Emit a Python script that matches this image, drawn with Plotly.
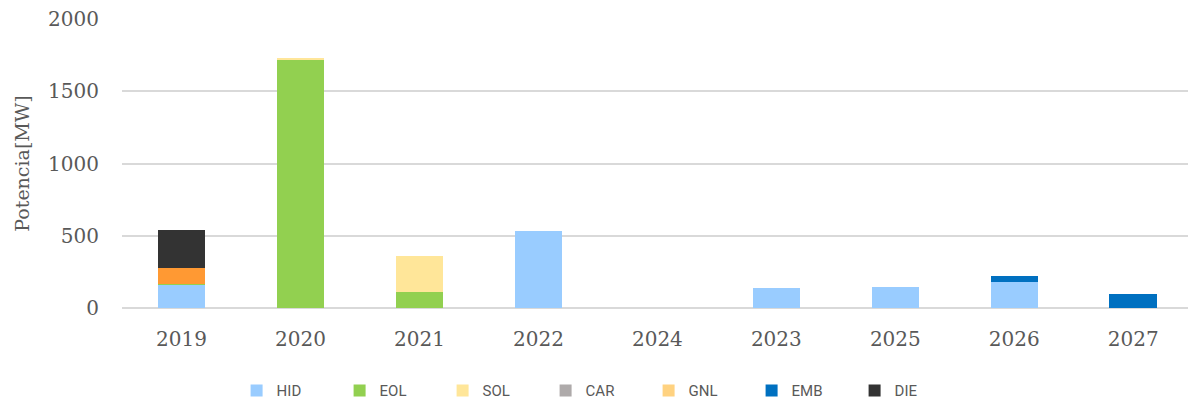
import plotly.graph_objects as go

categories = ["2019", "2020", "2021", "2022", "2024", "2023", "2025", "2026", "2027"]
HID = [160, 0, 0, 533, 0, 138, 147, 180, 0]
EOL = [7, 1718, 109, 0, 0, 0, 0, 0, 0]
SOL = [0, 12, 253, 0, 0, 0, 0, 0, 0]
CAR = [0, 0, 0, 0, 0, 0, 0, 0, 0]
GNL = [0, 0, 0, 0, 0, 0, 0, 0, 0]
OTRO = [112, 0, 0, 0, 0, 0, 0, 0, 0]
EMB = [0, 0, 0, 0, 0, 0, 0, 44, 99]
DIE = [261, 0, 0, 0, 0, 0, 0, 0, 0]

series = [
    ("HID", HID, "#99CCFF", True),
    ("EOL", EOL, "#92D050", True),
    ("SOL", SOL, "#FFE699", True),
    ("CAR", CAR, "#AEAAAA", True),
    ("GNL", GNL, "#FFD280", True),
    ("Otro", OTRO, "#FF9933", False),
    ("EMB", EMB, "#0070C0", True),
    ("DIE", DIE, "#333333", True),
]

fig = go.Figure()
for name, vals, color, show in series:
    fig.add_trace(go.Bar(
        name=name, x=categories, y=vals, marker_color=color,
        marker_line_width=0, showlegend=show,
    ))

fig.update_layout(
    barmode="stack",
    bargap=0.6,
    width=1188, height=401,
    margin=dict(l=122, r=0, t=19, b=93, autoexpand=False),
    plot_bgcolor="white", paper_bgcolor="white",
    font=dict(family="DejaVu Serif, Liberation Serif, serif", color="#595959", size=16),
    legend=dict(
        orientation="h", x=0.1075, xanchor="left", y=-0.229, yanchor="top",
        font=dict(family="Roboto, sans-serif", size=15, color="#595959"),
        traceorder="normal", itemwidth=30,
        entrywidth=58, entrywidthmode="pixels",
    ),
    xaxis=dict(showline=False, ticks="outside", ticklen=13, tickcolor="rgba(0,0,0,0)",
               range=[-0.5, 8.46],
               tickfont=dict(size=20), automargin=False),
    yaxis=dict(
        range=[0, 2000], dtick=500, gridcolor="#D9D9D9", gridwidth=2,
        zeroline=True, zerolinecolor="#D9D9D9", zerolinewidth=2,
        ticks="outside", ticklen=18, tickcolor="rgba(0,0,0,0)",
        tickfont=dict(size=20), automargin=False,
        title=dict(text="Potencia[MW]", font=dict(size=19), standoff=13),
    ),
)

fig.write_html("out.html", config={"displayModeBar": False},
               post_script="document.body.style.margin='0px';")
